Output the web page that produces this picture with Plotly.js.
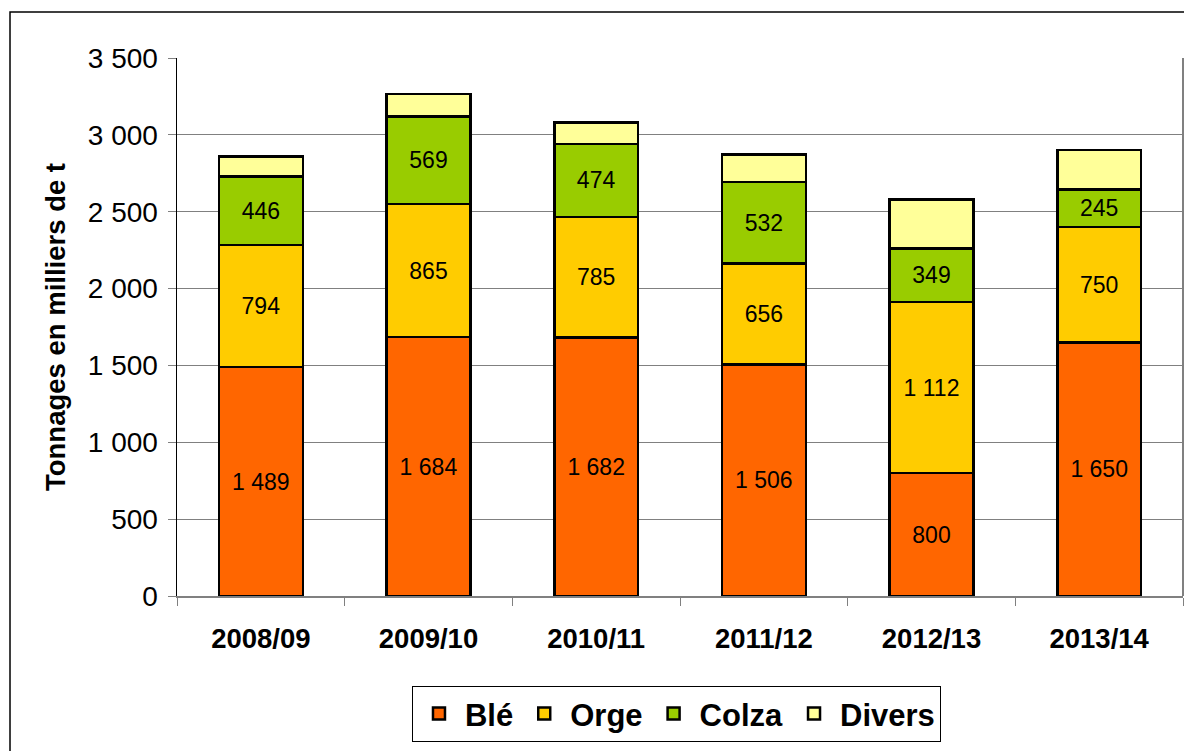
<!DOCTYPE html>
<html>
<head>
<meta charset="utf-8">
<script src="https://cdn.plot.ly/plotly-3.0.1.min.js"></script>
<style>html,body{margin:0;padding:0;background:#fff;}#chart{width:1184px;height:751px;}</style>
</head>
<body>
<div id="chart"></div>
<script>
const campagnes = ["2008/09", "2009/10", "2010/11", "2011/12", "2012/13", "2013/14"];
const ble = [1489, 1684, 1682, 1506, 800, 1650];
const orge = [794, 865, 785, 656, 1112, 750];
const colza = [446, 569, 474, 532, 349, 245];
const divers = [129, 148, 138, 177, 320, 257];
const yTicks = [0, 500, 1000, 1500, 2000, 2500, 3000, 3500];

function fr(v) { return String(v).replace(/\B(?=(\d{3})+(?!\d))/g, " "); }

function mk(name, vals, color, labels) {
  return {
    type: "bar", name: name, x: campagnes, y: vals,
    marker: {color: color, line: {color: "#000", width: 2.5}},
    text: labels ? vals.map(fr) : null,
    textposition: labels ? "inside" : "none",
    insidetextanchor: "middle",
    textangle: 0,
    constraintext: "none",
    textfont: {family: "Liberation Sans, Arial, sans-serif", size: 23, color: "#000"},
    hoverinfo: "x+y+name"
  };
}

const data = [
  mk("Blé", ble, "#FF6600", true),
  mk("Orge", orge, "#FFCC00", true),
  mk("Colza", colza, "#99CC00", true),
  mk("Divers", divers, "#FFFF99", false)
];

const layout = {
  width: 1184, height: 751,
  margin: {l: 177, r: 1, t: 58, b: 155, pad: 0},
  paper_bgcolor: "#fff", plot_bgcolor: "#fff",
  barmode: "stack", bargap: 0.5,
  separators: ", ",
  font: {family: "Liberation Sans, Arial, sans-serif", color: "#000"},
  showlegend: true,
  legend: {
    orientation: "h", x: 0.4965, xanchor: "center", y: -0.167, yanchor: "top",
    bordercolor: "#000", borderwidth: 1, bgcolor: "#fff",
    font: {size: 31, family: "Liberation Sans, Arial, sans-serif", weight: "bold", color: "#000"},
    itemwidth: 42,
    traceorder: "normal", itemclick: false
  },
  xaxis: {
    type: "category", tickson: "boundaries", ticks: "outside", ticklen: 8, tickcolor: "#808080",
    showline: true, linecolor: "#808080", linewidth: 1.5,
    tickfont: {size: 27.5, weight: "bold", color: "#000"},
    ticklabelstandoff: 17,
    showgrid: false, zeroline: false, fixedrange: true
  },
  yaxis: {
    range: [0, 3500], tickvals: yTicks, ticktext: yTicks.map(fr),
    ticks: "outside", ticklen: 8, tickcolor: "#808080",
    showline: true, linecolor: "#000", linewidth: 1.5,
    showgrid: true, gridcolor: "#808080", gridwidth: 1.2,
    zeroline: false,
    tickfont: {size: 28, color: "#000"},
    ticklabelstandoff: 4,
    title: {text: "Tonnages en milliers de t", font: {size: 27.5, weight: "bold", color: "#000"}, standoff: 14},
    fixedrange: true
  },
  shapes: [
    {type: "rect", xref: "paper", yref: "paper", x0: -0.166, x1: 1.01, y0: -0.31, y1: 1.0855,
     line: {color: "#000", width: 1.5}, fillcolor: "rgba(0,0,0,0)", layer: "below"},
    {type: "line", xref: "paper", yref: "paper", x0: 1, x1: 1, y0: 0, y1: 1,
     line: {color: "#808080", width: 2}}
  ]
};

Plotly.newPlot("chart", data, layout, {displayModeBar: false, staticPlot: true});
</script>
</body>
</html>
